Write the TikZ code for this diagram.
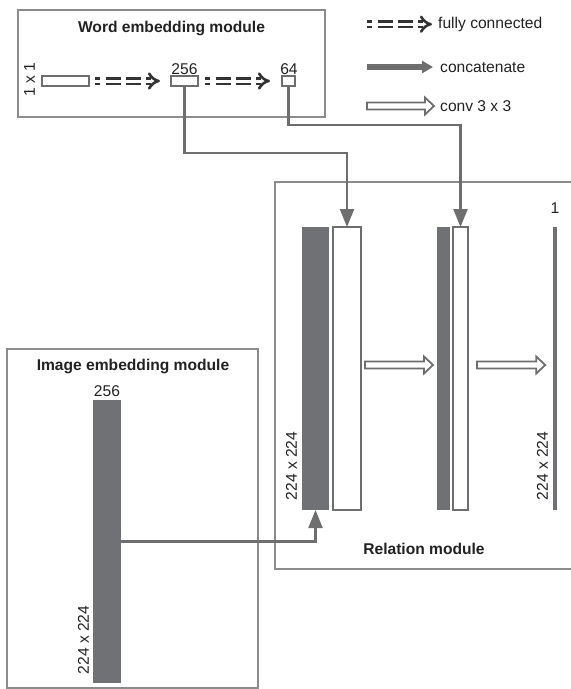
\documentclass[tikz,border=0pt]{standalone}
\usepackage{fontspec}
\setmainfont{Liberation Sans}
\usetikzlibrary{arrows.meta,calc,positioning}
\definecolor{barc}{HTML}{707174}
\definecolor{linec}{HTML}{6E6E70}
\definecolor{boxc}{HTML}{8C8C8C}
\definecolor{txtc}{HTML}{222222}
\definecolor{fcc}{HTML}{333333}
\newcommand\convarrow[2]{%
  \draw[convst] let \p1=(#1), \p2=(#2) in
    (\x1,\y1+3.5pt) -- (\x2-9pt,\y1+3.5pt) -- (\x2-9pt,\y1+8.5pt) -- (\x2,\y1)
    -- (\x2-9pt,\y1-8.5pt) -- (\x2-9pt,\y1-3.5pt) -- (\x1,\y1-3.5pt) -- cycle;}
\begin{document}
\begin{tikzpicture}[x=1pt,y=-1pt, font=\fontsize{15.6pt}{18pt}\selectfont, text=txtc,
  module/.style={draw=boxc, line width=1.5pt},
  title/.style={font=\fontsize{15.6pt}{18pt}\selectfont\bfseries, anchor=base, inner sep=0},
  lbl/.style={anchor=base, inner sep=0},
  rlbl/.style={rotate=90, anchor=south, inner sep=0},
  vec/.style={draw=linec, line width=2.2pt, fill=white, inner sep=0, outer sep=0},
  bar/.style={fill=barc, inner sep=0, outer sep=0},
  link/.style={draw=linec, line width=2.2pt, -{Triangle[length=18pt,width=14pt]}},
  fc/.style={draw=fcc, line width=2.6pt, double=white, double distance=3pt,
    dash pattern=on 5pt off 6pt on 15pt off 5pt on 15pt off 5pt, -{Implies}},
  concat/.style={draw=linec, line width=6pt, -{Triangle[length=11pt,width=12pt]}},
  convst/.style={draw=linec, line width=1.8pt, fill=white, line join=miter}
]
\useasboundingbox (0,0) rectangle (571,689);

% module frames
\draw[module] (18,10) rectangle (325,117);
\draw[module] (275,182) rectangle (574,569);
\draw[module] (7,349) rectangle (258,688);

% word embedding module
\node[title] (wtitle) at (171.5,32) {Word embedding module};
\node[vec, minimum width=47pt, minimum height=10pt] (r1) at (65.5,81) {};
\node[vec, minimum width=27pt, minimum height=10pt] (r256) at (184.5,81) {};
\node[vec, minimum width=13pt, minimum height=10pt] (r64) at (288.5,81) {};
\node[rlbl] (l11) at (35,80) {1 x 1};
\node[lbl] (l256a) at (184.5,74.5) {256};
\node[lbl] (l64) at (289,74.5) {64};
\draw[fc] ($(r1.east)+(6,0)$) -- ($(r256.west)+(-11,0)$);
\draw[fc] ($(r256.east)+(7,0)$) -- ($(r64.west)+(-12,0)$);

% legend
\coordinate (fcA) at (367,24.2);
\coordinate (fcB) at (432,24.2);
\draw[fc] (fcA) -- (fcB);
\node[lbl, anchor=base west] (lfc) at (438,28.5) {fully connected};
\coordinate (caA) at (367,67);
\coordinate (caB) at (433,67);
\draw[concat] (caA) -- (caB);
\node[lbl, anchor=base west] (lca) at (440,72.5) {concatenate};
\coordinate (cvA) at (367,106);
\coordinate (cvB) at (434,106);
\convarrow{cvA}{cvB}
\node[lbl, anchor=base west] (lcv) at (440,111) {conv 3 x 3};

% relation module
\node[bar, minimum width=27pt, minimum height=283pt] (g1) at (315.5,368.5) {};
\node[vec, minimum width=28pt, minimum height=283pt] (w1) at (347,368.5) {};
\node[bar, minimum width=13pt, minimum height=283pt] (g2) at (443.5,368.5) {};
\node[vec, minimum width=15pt, minimum height=283pt] (w2) at (460.5,368.5) {};
\node[bar, minimum width=3.5pt, minimum height=283pt] (b3) at (555,368.5) {};
\node[lbl] (l1) at (555,213) {1};
\node[rlbl] (l224a) at (297,466) {224 x 224};
\node[rlbl] (l224b) at (548,466) {224 x 224};
\node[title] (rtitle) at (424,554) {Relation module};
\coordinate (cy) at (0,365);
\coordinate (cv1s) at ($(w1.east |- cy)+(4,0)$);
\coordinate (cv1e) at ($(g2.west |- cy)+(-4,0)$);
\coordinate (cv2s) at ($(w2.east |- cy)+(9,0)$);
\coordinate (cv2e) at ($(b3.west |- cy)+(-8,0)$);
\convarrow{cv1s}{cv1e}
\convarrow{cv2s}{cv2e}

% image embedding module
\node[title] (ititle) at (133,370) {Image embedding module};
\node[bar, minimum width=28pt, minimum height=283pt] (ibar) at (107,541.5) {};
\node[lbl] (l256b) at (107,396) {256};
\node[rlbl] (l224c) at (89,640) {224 x 224};

% connectors
\draw[link] (r256.south) -- ++(0,67) -| (w1.north);
\draw[link] (r64.south) -- ++(0,39) -| (w2.north);
\draw[link] (ibar.east) -| (g1.south);
\end{tikzpicture}
\end{document}
